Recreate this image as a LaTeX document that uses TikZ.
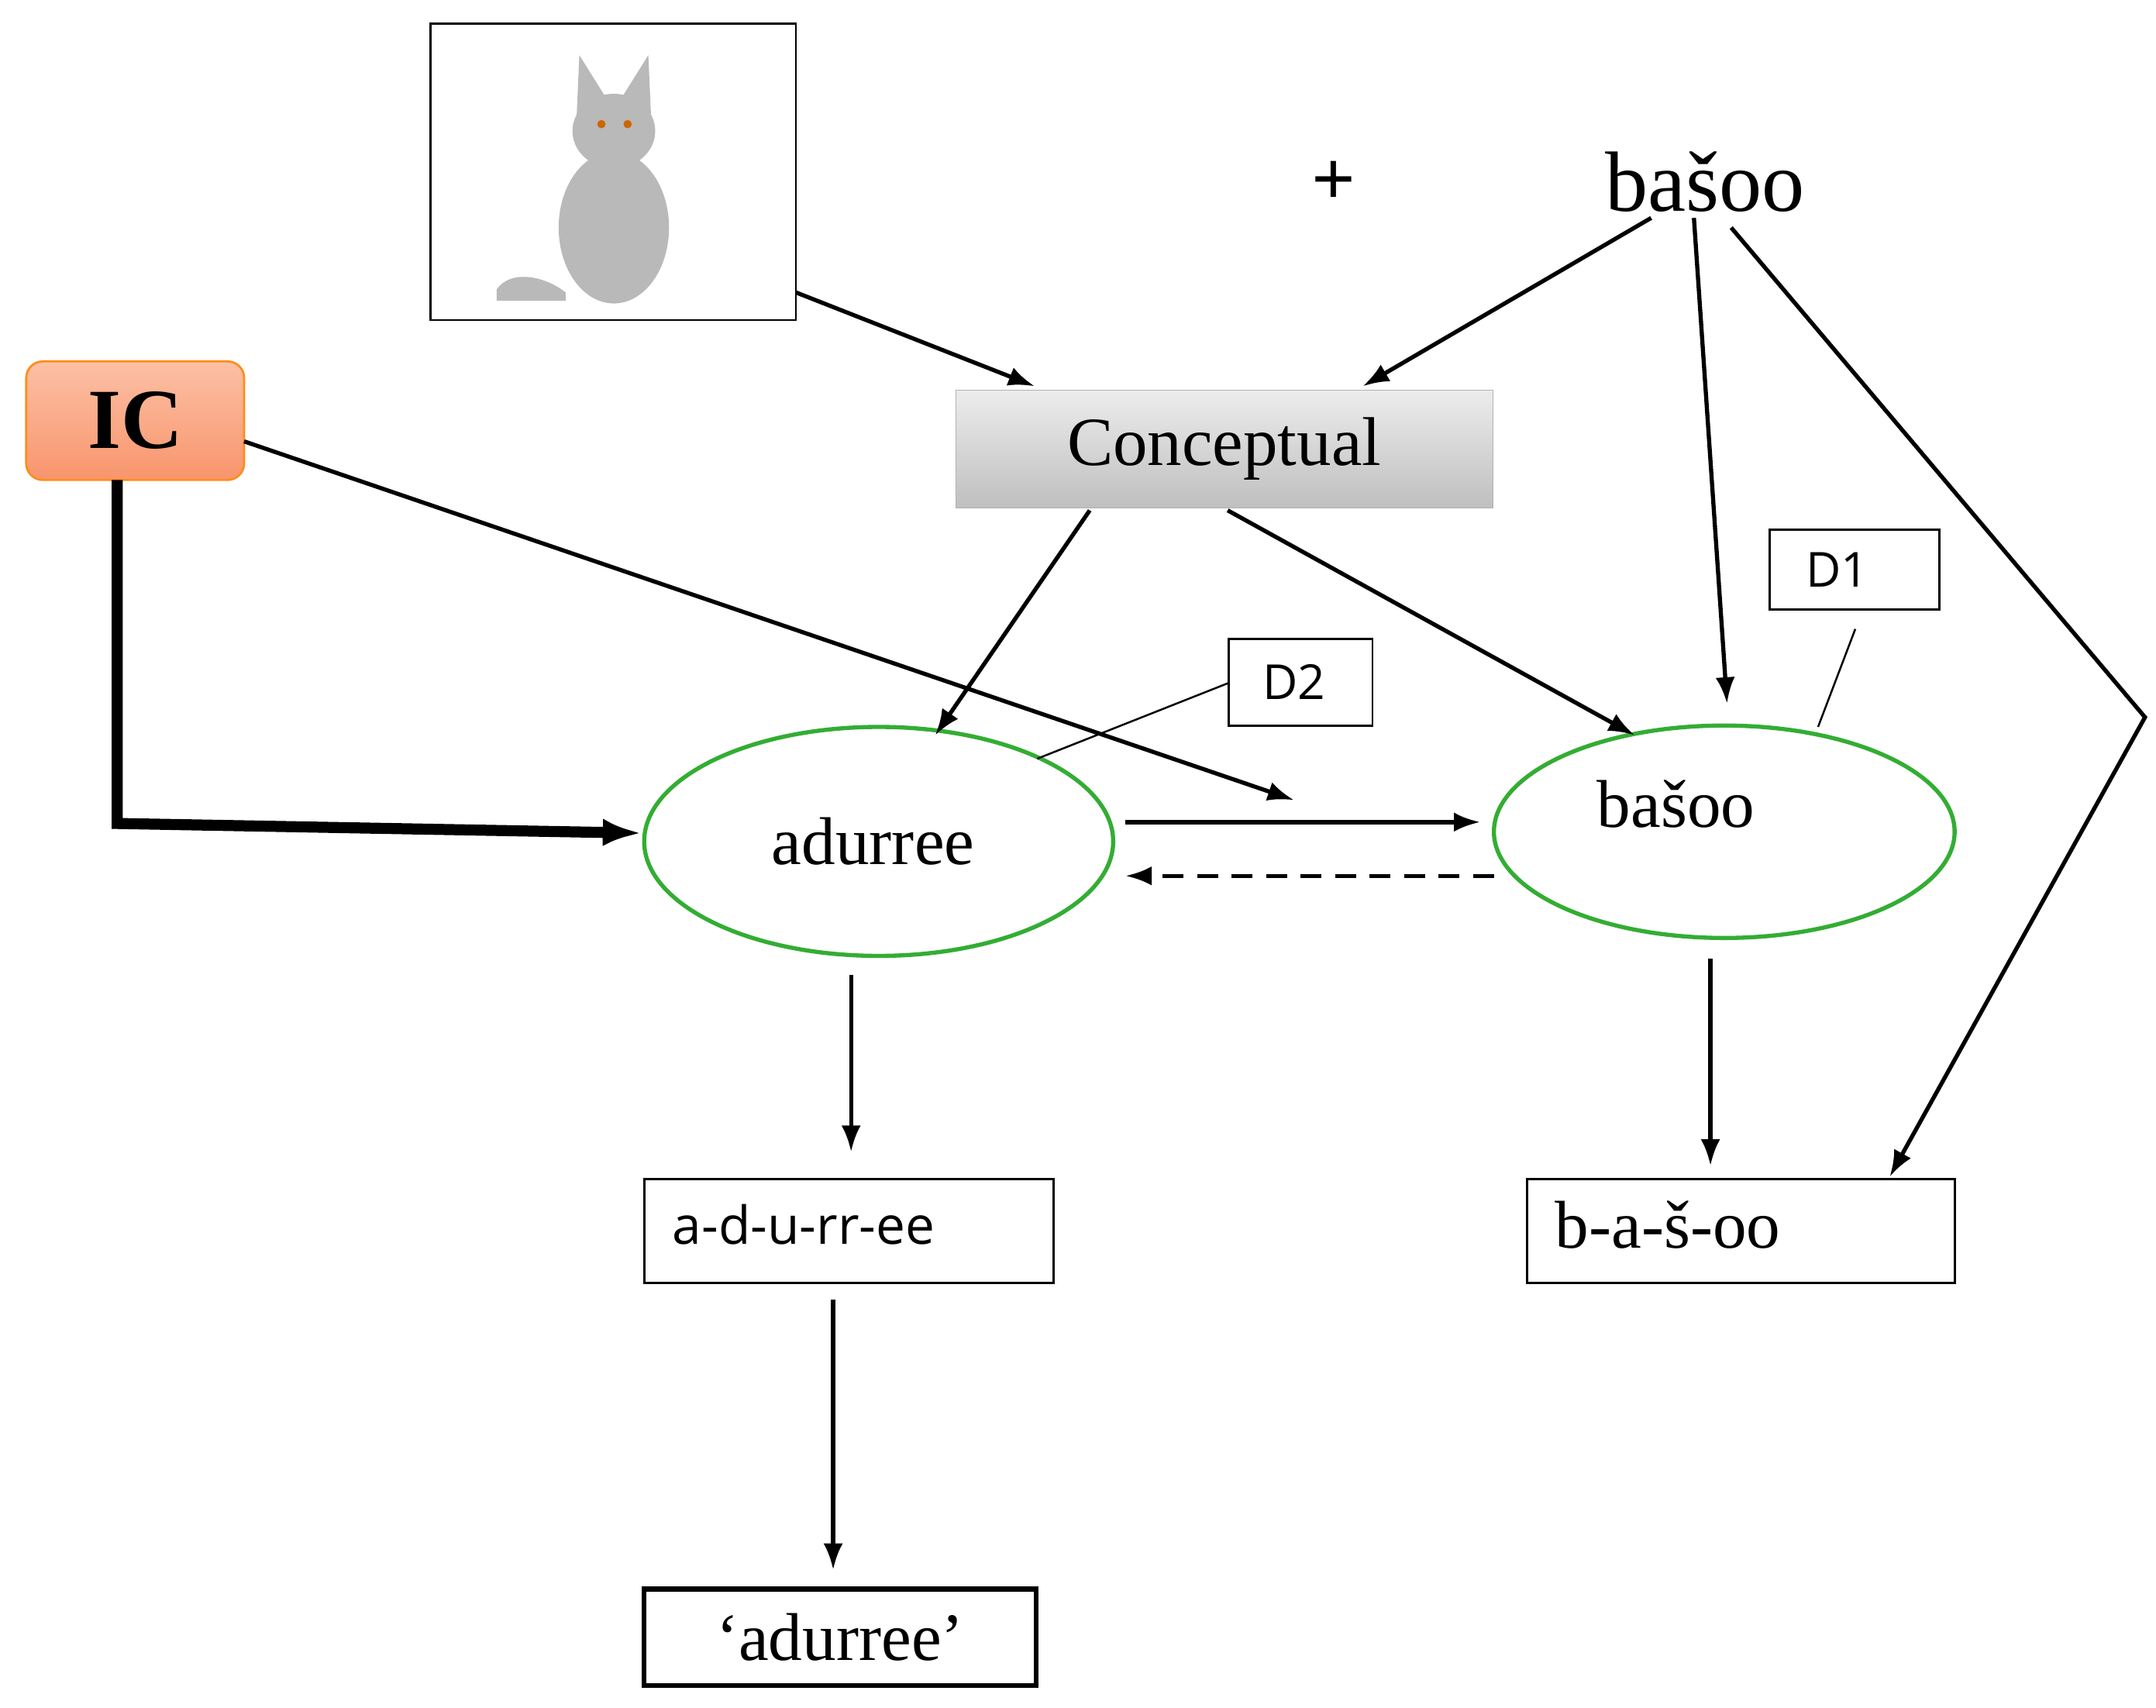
\documentclass[tikz,border=0pt]{standalone}
\usepackage{fontspec}
\setmainfont{Liberation Serif}
\newfontfamily\sansf{Open Sans}
\usetikzlibrary{arrows.meta,shapes.geometric}
\definecolor{salm}{HTML}{FCC0A5}
\definecolor{salmb}{HTML}{F8956C}
\begin{document}
\begin{tikzpicture}[x=1pt,y=-1pt,
  ar/.style={-{Latex[length=19,width=14]},line width=3pt},
  bx/.style={draw,line width=1.6pt,inner sep=0},
  ell/.style={draw=green!60!black!80,line width=3pt,ellipse,minimum width=#1}]
\useasboundingbox[fill=white] (0,0) rectangle (1563,1238);
% cat picture
\node[bx,minimum width=265,minimum height=215] (cat) at (444.5,124.5) {};
\begin{scope}[fill=gray!55]
\fill (445,165) ellipse (40 and 55);
\fill (445,95) ellipse (30 and 27);
\fill (418,85) -- (420,40) -- (440,72) -- cycle;
\fill (472,85) -- (470,40) -- (450,72) -- cycle;
\fill (360,210) .. controls (370,195) and (395,200) .. (410,212) -- (410,218) -- (360,218) -- cycle;
\fill[orange!80!black] (436,90) circle (3) (455,90) circle (3);
\end{scope}
\node (plus) at (967,133) {\fontsize{56}{58}\selectfont\bfseries +};
\node (btop) at (1236,132) {\fontsize{62}{64}\selectfont bašoo};
\node[draw=orange!90,top color=salm,bottom color=salmb,rounded corners=12,line width=1.5pt,minimum width=158,minimum height=86] (ic) at (98,305) {\fontsize{62}{64}\selectfont\bfseries IC};
\node[draw=gray!60,top color=gray!15,bottom color=gray!50,minimum width=389,minimum height=85] (conc) at (887.5,325.5) {\fontsize{50}{52}\selectfont Conceptual};
\node[bx,minimum width=123,minimum height=58] (d1) at (1344.5,413) {};
\node at (1332,413) {\sansf\fontsize{35}{37}\selectfont D1};
\node[bx,minimum width=104,minimum height=63] (d2) at (943,494.5) {};
\node at (938,494.5) {\sansf\fontsize{35}{37}\selectfont D2};
\node[ell=340,minimum height=166] (ea) at (637,610) {};
\node at (633,610) {\fontsize{49}{51}\selectfont adurree};
\node[ell=334,minimum height=154] (eb) at (1250,603) {};
\node at (1215,583) {\fontsize{49}{51}\selectfont bašoo};
\node[bx,minimum width=297,minimum height=75] (sa) at (615.5,892.5) {};
\node[anchor=west] at (484,888) {\sansf\fontsize{38}{40}\selectfont a-d-u-rr-ee};
\node[bx,minimum width=310,minimum height=75] (sb) at (1262,892.5) {};
\node[anchor=west] at (1124,888) {\fontsize{49}{51}\selectfont b-a-š-oo};
\node[draw,line width=3.5pt,minimum width=284,minimum height=70] (fa) at (609,1187) {\fontsize{49}{51}\selectfont ‘adurree’};
% arrows
\draw[ar] (577,212) -- (750,280);
\draw[ar] (1197,158) -- (988,280);
\draw[ar] (1228,158) -- (1252,510);
\draw[ar] (1255,165) -- (1555,520) -- (1370,853);
\draw[ar] (177,320) -- (938,580);
\draw[-{Latex[length=28,width=20]},line width=8pt] (85,348) -- (85,597) -- (465,604);
\draw[ar] (790,370) -- (678,533);
\draw[ar] (890,370) -- (1185,533);
\draw[ar] (816,596) -- (1073,596);
\draw[ar,dash pattern=on 15pt off 10pt] (1083,635) -- (816,635);
\draw[line width=1.4pt] (891,495) -- (752,550);
\draw[line width=1.4pt] (1345,456) -- (1318,527);
\draw[ar] (617,707) -- (617,835);
\draw[ar] (1240,695) -- (1240,845);
\draw[ar] (604,942) -- (604,1138);
\end{tikzpicture}
\end{document}
